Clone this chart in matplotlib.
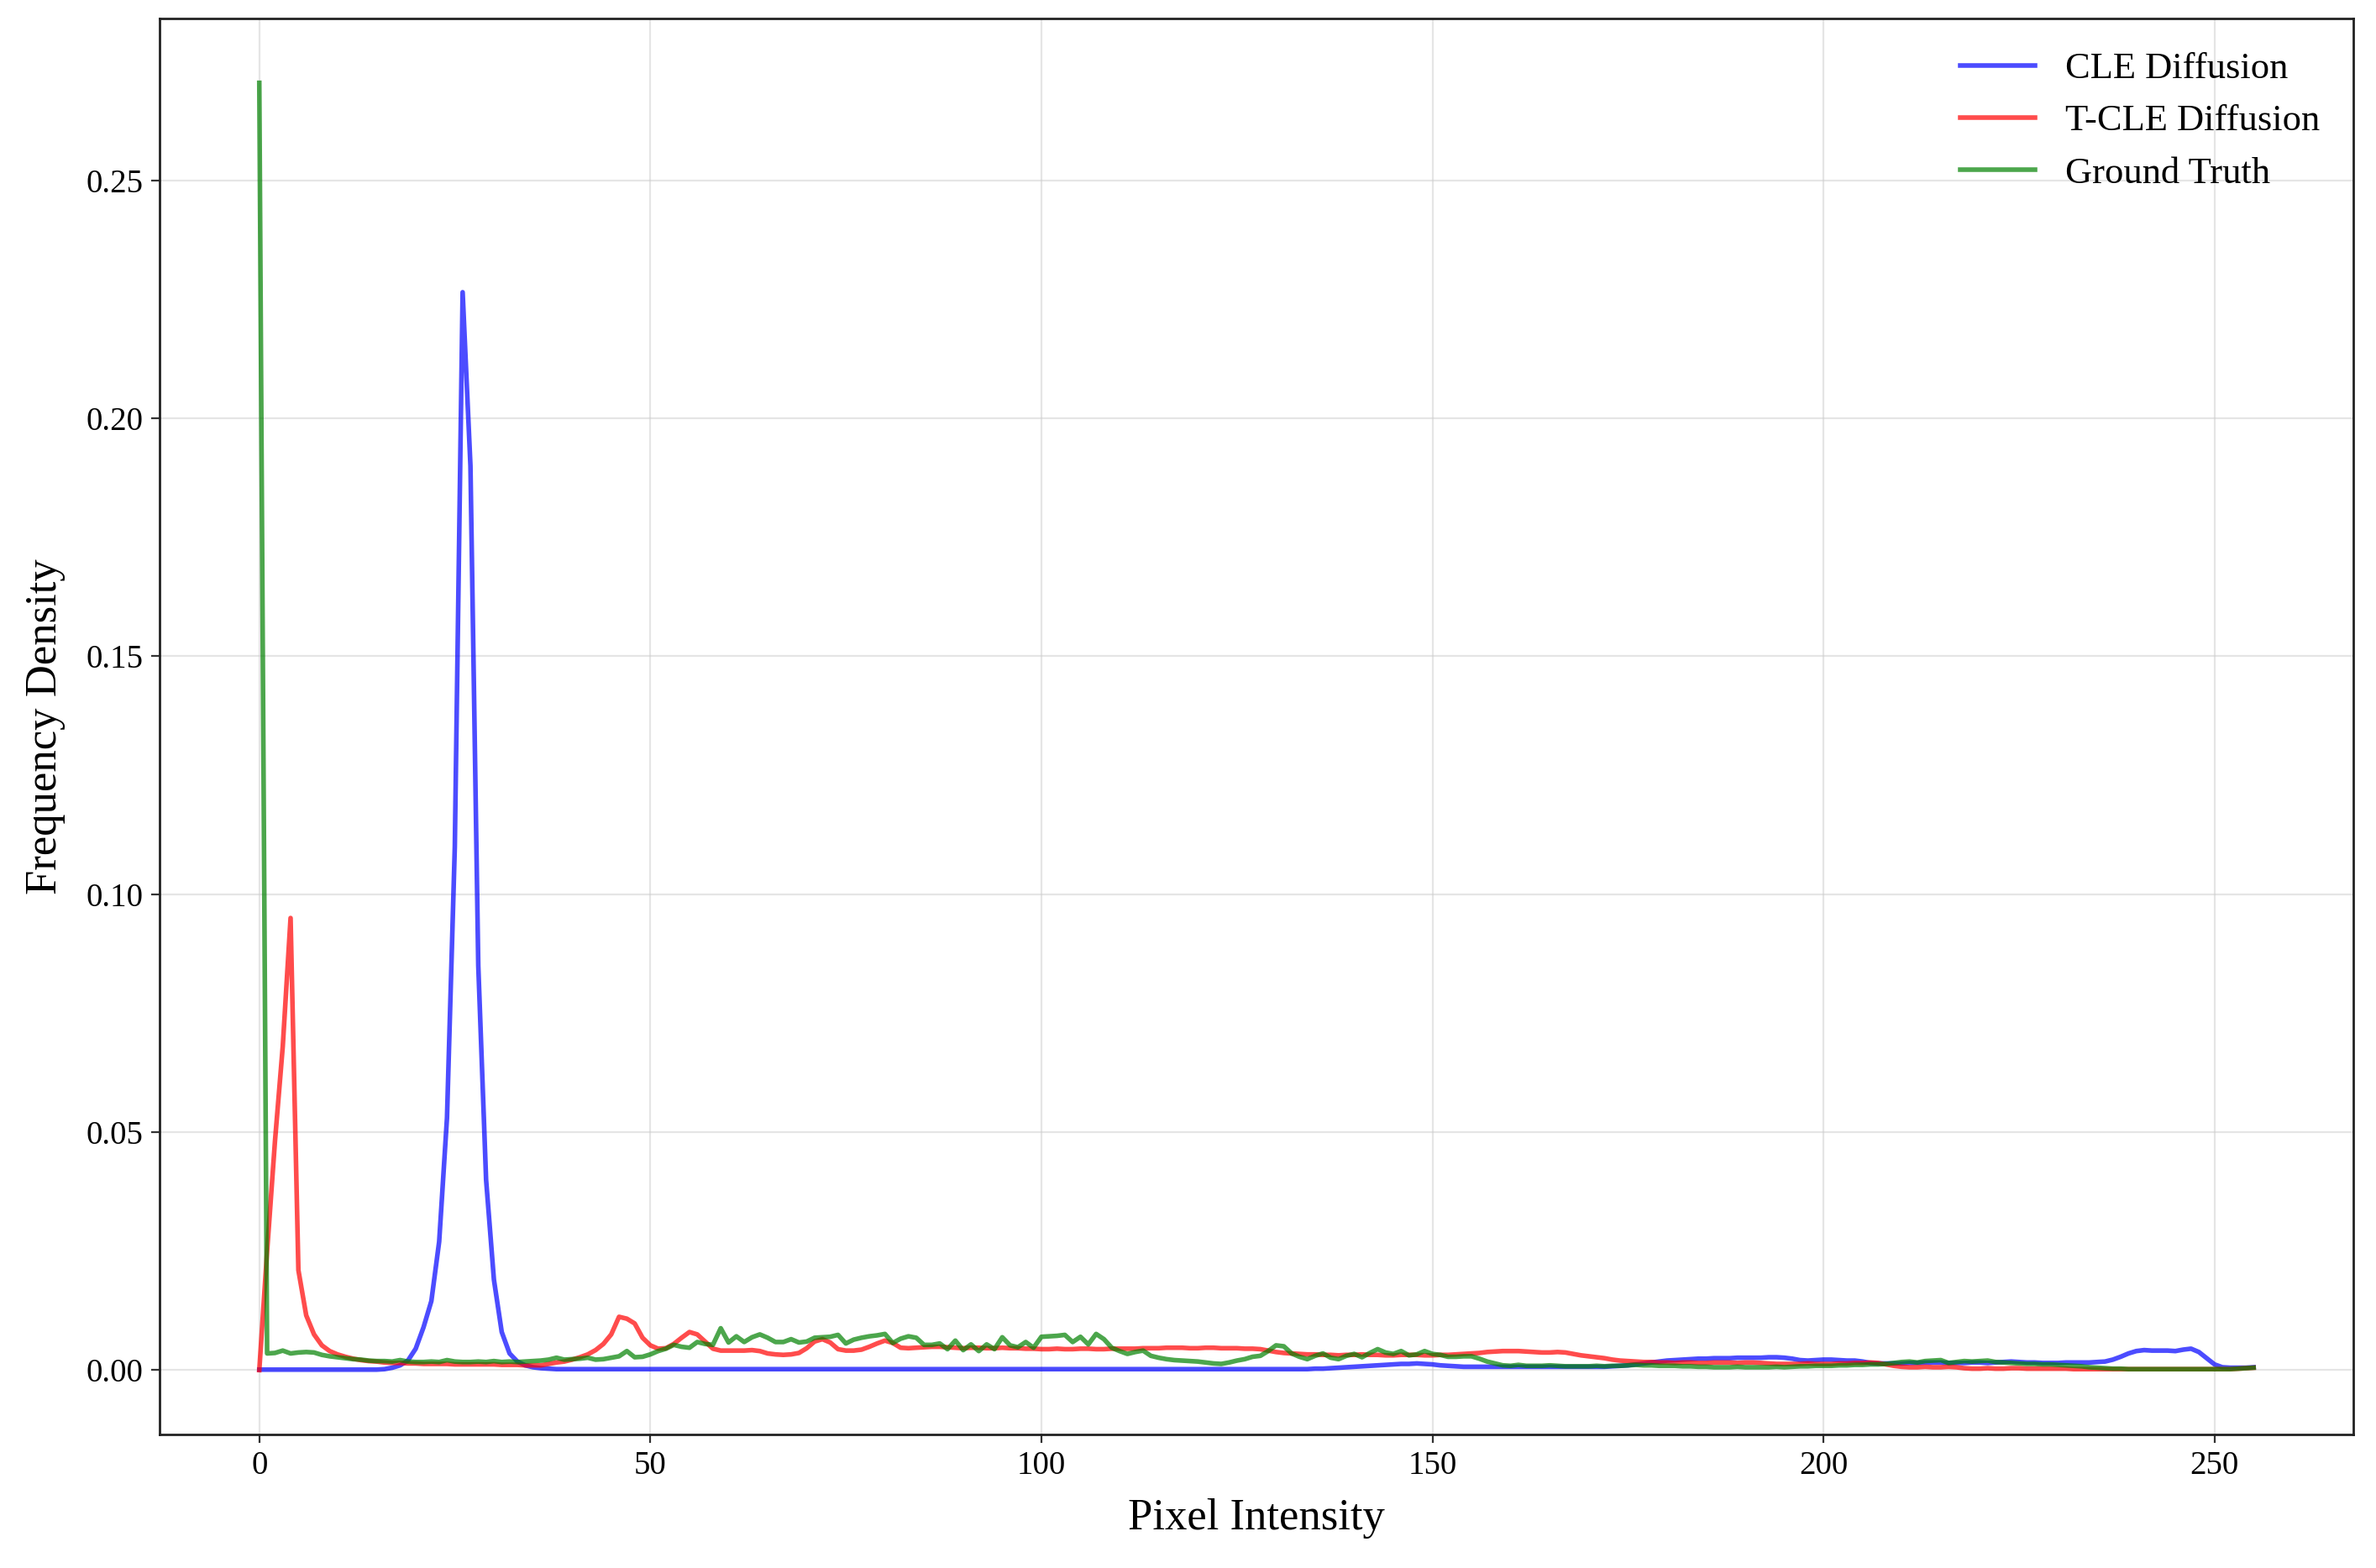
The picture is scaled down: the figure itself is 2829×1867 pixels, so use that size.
import numpy as np
import matplotlib
matplotlib.use("Agg")
import matplotlib.pyplot as plt

plt.rcParams['font.family'] = ['Liberation Serif', 'DejaVu Serif']

series_labels = ["CLE Diffusion", "T-CLE Diffusion", "Ground Truth"]
series_colors = ["blue", "red", "green"]

cle_diffusion = [
    0.0001, 0.0001, 0.0001, 0.0001, 0.0001, 0.0001, 0.0001, 0.0001, 0.0001, 0.0001, 0.0001, 0.0001, 0.0001, 0.0001, 0.0001, 0.0001,
    0.0002, 0.0005, 0.0010, 0.0020, 0.0045, 0.0090, 0.0145, 0.0270, 0.0530, 0.1100, 0.2265, 0.1900, 0.0850, 0.0400, 0.0190, 0.0080,
    0.0035, 0.0018, 0.0010, 0.0006, 0.0004, 0.0003, 0.0002, 0.0002, 0.0002, 0.0002, 0.0002, 0.0002, 0.0002, 0.0002, 0.0002, 0.0002,
    0.0002, 0.0002, 0.0002, 0.0002, 0.0002, 0.0002, 0.0002, 0.0002, 0.0002, 0.0002, 0.0002, 0.0002, 0.0002, 0.0002, 0.0002, 0.0002,
    0.0002, 0.0002, 0.0002, 0.0002, 0.0002, 0.0002, 0.0002, 0.0002, 0.0002, 0.0002, 0.0002, 0.0002, 0.0002, 0.0002, 0.0002, 0.0002,
    0.0002, 0.0002, 0.0002, 0.0002, 0.0002, 0.0002, 0.0002, 0.0002, 0.0002, 0.0002, 0.0002, 0.0002, 0.0002, 0.0002, 0.0002, 0.0002,
    0.0002, 0.0002, 0.0002, 0.0002, 0.0002, 0.0002, 0.0002, 0.0002, 0.0002, 0.0002, 0.0002, 0.0002, 0.0002, 0.0002, 0.0002, 0.0002,
    0.0002, 0.0002, 0.0002, 0.0002, 0.0002, 0.0002, 0.0002, 0.0002, 0.0002, 0.0002, 0.0002, 0.0002, 0.0002, 0.0002, 0.0002, 0.0002,
    0.0002, 0.0002, 0.0002, 0.0002, 0.0002, 0.0002, 0.0002, 0.0003, 0.0003, 0.0004, 0.0005, 0.0006, 0.0007, 0.0008, 0.0009, 0.0010,
    0.0011, 0.0012, 0.0013, 0.0013, 0.0014, 0.0013, 0.0012, 0.0010, 0.0009, 0.0008, 0.0007, 0.0007, 0.0007, 0.0007, 0.0007, 0.0007,
    0.0007, 0.0007, 0.0007, 0.0007, 0.0007, 0.0007, 0.0007, 0.0007, 0.0007, 0.0007, 0.0007, 0.0007, 0.0007, 0.0008, 0.0009, 0.0010,
    0.0012, 0.0014, 0.0016, 0.0018, 0.0020, 0.0021, 0.0022, 0.0023, 0.0024, 0.0024, 0.0025, 0.0025, 0.0025, 0.0026, 0.0026, 0.0026,
    0.0026, 0.0027, 0.0027, 0.0026, 0.0024, 0.0021, 0.0020, 0.0021, 0.0022, 0.0022, 0.0021, 0.0020, 0.0020, 0.0018, 0.0015, 0.0014,
    0.0014, 0.0014, 0.0014, 0.0015, 0.0015, 0.0016, 0.0016, 0.0016, 0.0015, 0.0015, 0.0015, 0.0016, 0.0016, 0.0015, 0.0016, 0.0017,
    0.0018, 0.0017, 0.0016, 0.0016, 0.0015, 0.0015, 0.0015, 0.0016, 0.0016, 0.0016, 0.0016, 0.0017, 0.0018, 0.0022, 0.0028, 0.0035,
    0.0040, 0.0042, 0.0041, 0.0041, 0.0041, 0.0040, 0.0043, 0.0045, 0.0038, 0.0025, 0.0012, 0.0006, 0.0005, 0.0005, 0.0005, 0.0006,
]

tcle_diffusion = [
    0.0000, 0.0250, 0.0480, 0.0680, 0.0950, 0.0210, 0.0115, 0.0075, 0.0052, 0.0040, 0.0033, 0.0028, 0.0024, 0.0021, 0.0019, 0.0018,
    0.0016, 0.0015, 0.0015, 0.0014, 0.0014, 0.0013, 0.0013, 0.0013, 0.0013, 0.0012, 0.0012, 0.0012, 0.0012, 0.0012, 0.0012, 0.0011,
    0.0011, 0.0011, 0.0010, 0.0010, 0.0010, 0.0013, 0.0016, 0.0018, 0.0022, 0.0027, 0.0033, 0.0042, 0.0055, 0.0075, 0.0112, 0.0108,
    0.0098, 0.0068, 0.0052, 0.0045, 0.0046, 0.0055, 0.0068, 0.0080, 0.0075, 0.0060, 0.0045, 0.0041, 0.0041, 0.0041, 0.0041, 0.0042,
    0.0040, 0.0035, 0.0033, 0.0032, 0.0033, 0.0036, 0.0046, 0.0060, 0.0065, 0.0058, 0.0044, 0.0041, 0.0041, 0.0043, 0.0049, 0.0056,
    0.0062, 0.0057, 0.0047, 0.0046, 0.0047, 0.0048, 0.0049, 0.0049, 0.0048, 0.0047, 0.0046, 0.0047, 0.0047, 0.0046, 0.0046, 0.0047,
    0.0046, 0.0046, 0.0045, 0.0045, 0.0044, 0.0044, 0.0045, 0.0044, 0.0044, 0.0045, 0.0045, 0.0044, 0.0044, 0.0045, 0.0045, 0.0045,
    0.0045, 0.0046, 0.0046, 0.0046, 0.0047, 0.0047, 0.0047, 0.0046, 0.0046, 0.0047, 0.0047, 0.0046, 0.0046, 0.0046, 0.0045, 0.0045,
    0.0044, 0.0041, 0.0038, 0.0036, 0.0035, 0.0034, 0.0033, 0.0033, 0.0032, 0.0032, 0.0031, 0.0032, 0.0032, 0.0033, 0.0032, 0.0032,
    0.0031, 0.0031, 0.0032, 0.0032, 0.0032, 0.0031, 0.0031, 0.0032, 0.0032, 0.0033, 0.0034, 0.0035, 0.0036, 0.0038, 0.0039, 0.0040,
    0.0040, 0.0040, 0.0039, 0.0038, 0.0037, 0.0037, 0.0038, 0.0037, 0.0034, 0.0031, 0.0029, 0.0027, 0.0025, 0.0022, 0.0020, 0.0019,
    0.0018, 0.0017, 0.0017, 0.0016, 0.0016, 0.0015, 0.0016, 0.0016, 0.0015, 0.0015, 0.0016, 0.0016, 0.0016, 0.0015, 0.0016, 0.0016,
    0.0015, 0.0014, 0.0013, 0.0013, 0.0013, 0.0013, 0.0014, 0.0013, 0.0013, 0.0013, 0.0014, 0.0014, 0.0015, 0.0015, 0.0016, 0.0015,
    0.0012, 0.0009, 0.0007, 0.0006, 0.0006, 0.0007, 0.0006, 0.0006, 0.0007, 0.0006, 0.0004, 0.0003, 0.0003, 0.0004, 0.0003, 0.0003,
    0.0004, 0.0004, 0.0003, 0.0003, 0.0003, 0.0003, 0.0003, 0.0003, 0.0002, 0.0002, 0.0002, 0.0002, 0.0002, 0.0002, 0.0002, 0.0002,
    0.0002, 0.0002, 0.0002, 0.0002, 0.0002, 0.0002, 0.0002, 0.0002, 0.0002, 0.0002, 0.0002, 0.0002, 0.0002, 0.0003, 0.0004, 0.0005,
]

ground_truth = [
    0.2705, 0.0035, 0.0036, 0.0041, 0.0035, 0.0037, 0.0038, 0.0037, 0.0032, 0.0029, 0.0027, 0.0025, 0.0023, 0.0022, 0.0020, 0.0019,
    0.0019, 0.0018, 0.0021, 0.0018, 0.0017, 0.0017, 0.0018, 0.0017, 0.0021, 0.0018, 0.0017, 0.0017, 0.0018, 0.0017, 0.0019, 0.0017,
    0.0018, 0.0017, 0.0018, 0.0019, 0.0020, 0.0022, 0.0026, 0.0022, 0.0023, 0.0024, 0.0026, 0.0022, 0.0023, 0.0026, 0.0029, 0.0040,
    0.0027, 0.0028, 0.0033, 0.0040, 0.0045, 0.0053, 0.0049, 0.0047, 0.0059, 0.0055, 0.0053, 0.0088, 0.0058, 0.0071, 0.0059, 0.0069,
    0.0075, 0.0068, 0.0059, 0.0059, 0.0065, 0.0058, 0.0060, 0.0068, 0.0069, 0.0070, 0.0074, 0.0056, 0.0064, 0.0068, 0.0071, 0.0073,
    0.0076, 0.0057, 0.0066, 0.0071, 0.0068, 0.0053, 0.0053, 0.0056, 0.0044, 0.0062, 0.0042, 0.0054, 0.0040, 0.0054, 0.0044, 0.0069,
    0.0052, 0.0048, 0.0059, 0.0047, 0.0070, 0.0071, 0.0072, 0.0074, 0.0059, 0.0070, 0.0054, 0.0076, 0.0065, 0.0047, 0.0040, 0.0034,
    0.0038, 0.0041, 0.0030, 0.0026, 0.0023, 0.0021, 0.0020, 0.0019, 0.0018, 0.0016, 0.0014, 0.0013, 0.0016, 0.0020, 0.0023, 0.0028,
    0.0030, 0.0040, 0.0052, 0.0050, 0.0035, 0.0028, 0.0023, 0.0030, 0.0035, 0.0026, 0.0023, 0.0030, 0.0034, 0.0027, 0.0036, 0.0044,
    0.0037, 0.0034, 0.0040, 0.0031, 0.0033, 0.0040, 0.0034, 0.0032, 0.0028, 0.0028, 0.0029, 0.0029, 0.0024, 0.0018, 0.0014, 0.0010,
    0.0009, 0.0011, 0.0009, 0.0009, 0.0009, 0.0010, 0.0009, 0.0008, 0.0008, 0.0008, 0.0008, 0.0009, 0.0008, 0.0009, 0.0009, 0.0010,
    0.0011, 0.0010, 0.0010, 0.0009, 0.0009, 0.0009, 0.0008, 0.0008, 0.0007, 0.0007, 0.0006, 0.0006, 0.0006, 0.0007, 0.0006, 0.0006,
    0.0006, 0.0006, 0.0007, 0.0006, 0.0007, 0.0008, 0.0008, 0.0009, 0.0009, 0.0009, 0.0010, 0.0010, 0.0011, 0.0011, 0.0012, 0.0012,
    0.0013, 0.0015, 0.0017, 0.0018, 0.0016, 0.0019, 0.0020, 0.0021, 0.0015, 0.0017, 0.0019, 0.0018, 0.0019, 0.0020, 0.0017, 0.0016,
    0.0015, 0.0014, 0.0013, 0.0013, 0.0012, 0.0012, 0.0011, 0.0010, 0.0009, 0.0008, 0.0006, 0.0005, 0.0004, 0.0003, 0.0003, 0.0002,
    0.0002, 0.0002, 0.0002, 0.0002, 0.0002, 0.0002, 0.0002, 0.0002, 0.0002, 0.0002, 0.0002, 0.0002, 0.0002, 0.0003, 0.0004, 0.0005,
]

pixel_intensity = np.arange(len(cle_diffusion))

x_ticks = [0, 50, 100, 150, 200, 250]
y_ticks = [0.00, 0.05, 0.10, 0.15, 0.20, 0.25]

W, H, DPI = 2829, 1867, 200
fig = plt.figure(figsize=(W / DPI, H / DPI), dpi=DPI)
ax = fig.add_axes([190 / W, 1 - 1708 / H, (2802 - 190) / W, (1708 - 22) / H])

for vals, lab, col in zip([cle_diffusion, tcle_diffusion, ground_truth], series_labels, series_colors):
    ax.plot(pixel_intensity, vals, color=col, alpha=0.7, linewidth=2.0, label=lab)

ax.set_xticks(x_ticks)
ax.set_yticks(y_ticks)
ax.set_yticklabels([f"{v:.2f}" for v in y_ticks])
ax.tick_params(labelsize=14, colors="#333333", labelcolor="black")
ax.grid(True, color="#cccccc", alpha=0.5, linewidth=0.8)
ax.set_axisbelow(True)
ax.set_xlabel("Pixel Intensity", fontsize=19, labelpad=7)
ax.set_ylabel("Frequency Density", fontsize=19, labelpad=9)
for sp in ax.spines.values():
    sp.set_color("#222222")
    sp.set_linewidth(1.0)

ax.legend(loc="upper right", frameon=False, fontsize=16, handlelength=2.0)

fig.savefig("out.png", dpi=DPI)
